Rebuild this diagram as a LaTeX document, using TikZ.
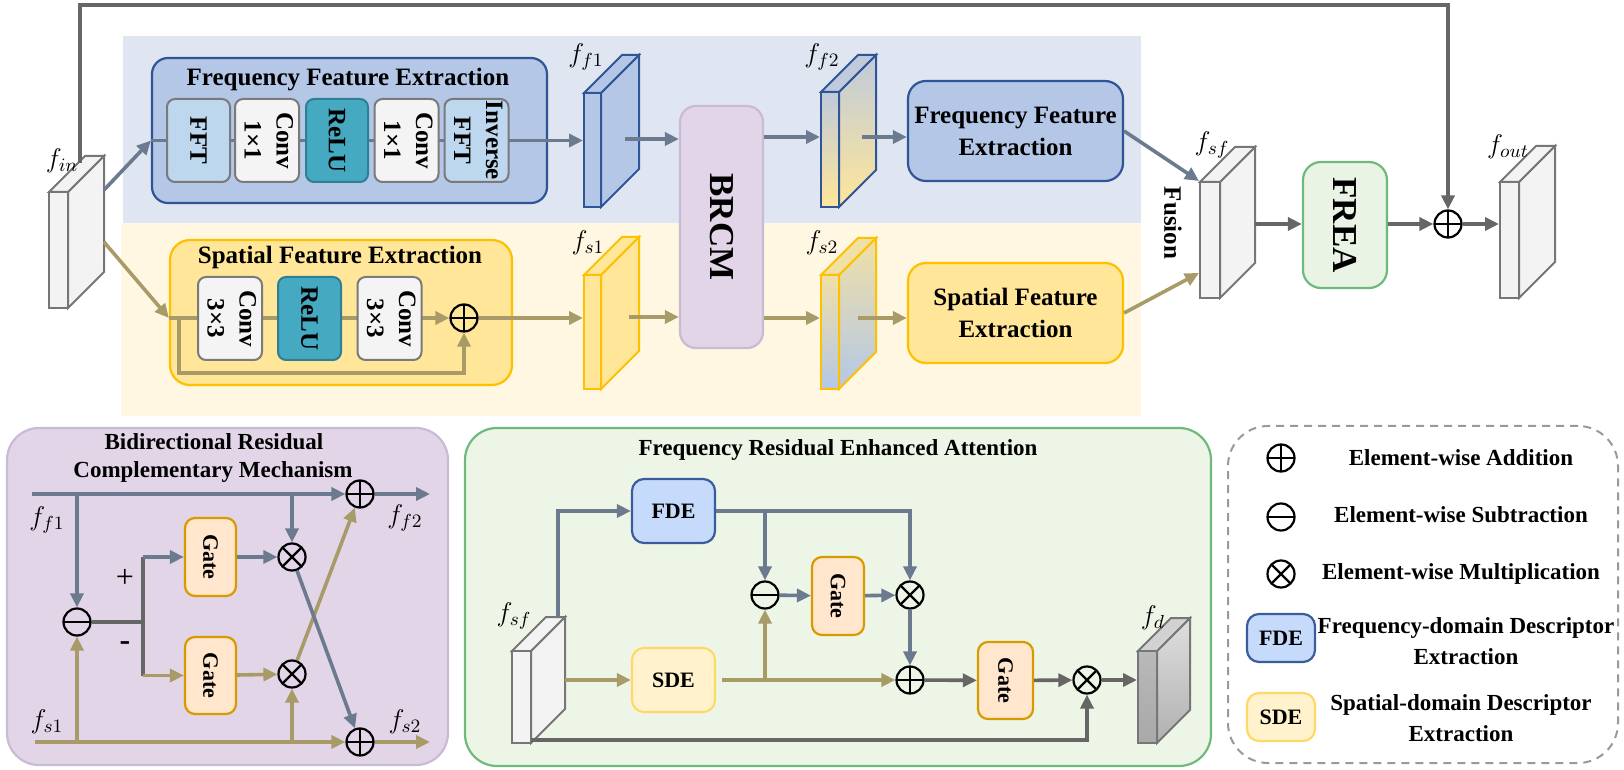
\RequirePackage{fix-cm}
\documentclass[tikz,border=0pt]{standalone}
\usepackage{graphicx}
\usepackage{fontspec}
\setmainfont{Liberation Serif}
\usetikzlibrary{arrows.meta,calc}
\definecolor{bandB}{HTML}{DFE6F2}
\definecolor{bandY}{HTML}{FFF7E1}
\definecolor{ffeF}{HTML}{B4C7E7}
\definecolor{ffeD}{HTML}{2F5597}
\definecolor{fftF}{HTML}{BDD7EE}
\definecolor{convF}{HTML}{F4F4F4}
\definecolor{boxG}{HTML}{7A7A7A}
\definecolor{reluF}{HTML}{45A9C1}
\definecolor{reluD}{HTML}{2E7F93}
\definecolor{sfeF}{HTML}{FFE699}
\definecolor{sfeD}{HTML}{FFC000}
\definecolor{purF}{HTML}{E1D5E7}
\definecolor{purD}{HTML}{C9BAD6}
\definecolor{gateF}{HTML}{FFE6CC}
\definecolor{gateD}{HTML}{D79B00}
\definecolor{grnF}{HTML}{EDF5E7}
\definecolor{grnD}{HTML}{70B97C}
\definecolor{freaF}{HTML}{EAF4E5}
\definecolor{fdeF}{HTML}{C6DAFB}
\definecolor{fdeD}{HTML}{3B5C9A}
\definecolor{sdeF}{HTML}{FFF2CC}
\definecolor{sdeD}{HTML}{FFD966}
\definecolor{arB}{HTML}{6B7A8F}
\definecolor{arY}{HTML}{A89B68}
\definecolor{arK}{HTML}{666666}
\definecolor{cubeF}{HTML}{F3F3F3}
\definecolor{cubeD}{HTML}{767676}
\definecolor{legD}{HTML}{999999}
\definecolor{ffTop}{HTML}{BFCADB}
\definecolor{fsTop}{HTML}{F0E0A6}
\newcommand\myfA{\fontsize{12.5}{16}\selectfont\bfseries}
\newcommand\myfB{\fontsize{17.5}{20}\selectfont\bfseries}
\newcommand\myfC{\fontsize{11.5}{15.5}\selectfont\bfseries}
\newcommand\myfD{\fontsize{11}{13}\selectfont\bfseries}
\newcommand\mycube[9]{%
  \path[#8] (#4,#3) -- (#4+#6,#3-#6) -- (#4+#6,#5-#6) -- (#4,#5) -- cycle;
  \path[#9] (#2,#3) -- (#2+#6,#3-#6) -- (#4+#6,#3-#6) -- (#4,#3) -- cycle;
  \node[#7, inner sep=0pt, minimum width={(#4-#2)*0.5pt}, minimum height={(#5-#3)*0.5pt}] (#1) at ({(#2+#4)/2},{(#3+#5)/2}) {};
}
\begin{document}
\begin{tikzpicture}[x=0.5pt,y=-0.5pt,
  wh/.style 2 args={minimum width=#1*0.5pt, minimum height=#2*0.5pt, inner sep=0pt},
  ib/.style={draw=boxG, line width=1pt, rounded corners=4pt, inner sep=0pt, font=\myfA},
  fftS/.style={ib, fill=fftF},
  convS/.style={ib, fill=convF},
  reluS/.style={ib, fill=reluF, draw=reluD},
  gateS/.style={draw=gateD, fill=gateF, line width=1.1pt, rounded corners=5pt, inner sep=0pt, font=\myfD},
  fdeS/.style={draw=fdeD, fill=fdeF, line width=1.1pt, rounded corners=6pt, inner sep=0pt, font=\myfD},
  sdeS/.style={draw=sdeD, fill=sdeF, line width=1.1pt, rounded corners=6pt, inner sep=0pt, font=\myfD},
  cubeS/.style={draw=cubeD, fill=cubeF, line width=1pt},
  blueS/.style={draw=ffeD, fill=ffeF, line width=1pt},
  yelS/.style={draw=sfeD, fill=sfeF, line width=1pt},
  ffTwoF/.style={draw=ffeD, line width=1pt, top color=ffTop, bottom color=sfeF},
  ffTwoT/.style={draw=ffeD, fill=ffTop, line width=1pt},
  fsTwoF/.style={draw=sfeD, line width=1pt, top color=fsTop, bottom color=ffeF},
  fsTwoT/.style={draw=sfeD, fill=fsTop, line width=1pt},
  fdF/.style={draw=cubeD, line width=1pt, top color=gray!55, bottom color=gray!68},
  fdS/.style={draw=cubeD, line width=1pt, top color=gray!25, bottom color=gray!62},
  fdT/.style={draw=cubeD, line width=1pt, fill=gray!35},
  lab/.style={font=\fontsize{13.5}{13.5}\selectfont, inner sep=1pt},
  opc/.style={circle, draw=black, line width=1.1pt, minimum size=13.5pt, inner sep=0pt},
  oplus/.style={opc, path picture={\draw[line width=1.1pt] (path picture bounding box.north)--(path picture bounding box.south) (path picture bounding box.west)--(path picture bounding box.east);}},
  ominus/.style={opc, path picture={\draw[line width=1.1pt] (path picture bounding box.west)--(path picture bounding box.east);}},
  otimes/.style={opc, path picture={\draw[line width=1.1pt] (path picture bounding box.north west)--(path picture bounding box.south east) (path picture bounding box.north east)--(path picture bounding box.south west);}},
  ab/.style={draw=arB, line width=1.8pt, -{Triangle[length=7pt,width=6.5pt]}},
  ay/.style={draw=arY, line width=1.8pt, -{Triangle[length=7pt,width=6.5pt]}},
  ak/.style={draw=arK, line width=1.8pt, -{Triangle[length=7pt,width=6.5pt]}},
  lk/.style={draw=arK, line width=1.8pt},
]
\useasboundingbox (0,0) rectangle (1624,770);
% bands
\fill[bandB] (123,36) rectangle (1141,223);
\fill[bandY] (121,223) rectangle (1141,416);
% cubes (top)
\mycube{fin}{49}{192}{68}{308}{36}{cubeS}{cubeS}{cubeS}
\mycube{ff1}{584}{93}{601}{207}{38}{blueS}{blueS}{blueS}
\mycube{fs1}{584}{275}{601}{389}{38}{yelS}{yelS}{yelS}
\mycube{ff2}{821}{92}{839}{207}{37}{ffTwoF}{ffTwoF}{ffTwoT}
\mycube{fs2}{821}{275}{839}{389}{37}{fsTwoF}{fsTwoF}{fsTwoT}
\mycube{fsf}{1200}{182}{1220}{298}{35}{cubeS}{cubeS}{cubeS}
\mycube{fout}{1500}{182}{1519}{298}{36}{cubeS}{cubeS}{cubeS}
% frequency feature extraction
\node[draw=ffeD, fill=ffeF, line width=1.1pt, rounded corners=8pt, wh={395}{145}] (ffe) at (349.5,130.5) {};
\node[font=\myfA] (ffet) at (348,80) {Frequency Feature Extraction};
\coordinate (fftc) at (198.5,140.5);
\draw[ab] (ffe.west |- fftc) -- (ff1.west |- fftc);
\node[fftS, wh={63}{83}] (fft) at (fftc) {\rotatebox{-90}{FFT}};
\node[convS, wh={62}{83}] (c11a) at (267,140.5) {\rotatebox{-90}{\begin{tabular}{@{}c@{}}Conv\\1×1\end{tabular}}};
\node[reluS, wh={62}{83}] (relu1) at (337,140.5) {\rotatebox{-90}{ReLU}};
\node[convS, wh={63}{83}] (c11b) at (406.5,140.5) {\rotatebox{-90}{\begin{tabular}{@{}c@{}}Conv\\1×1\end{tabular}}};
\node[fftS, wh={63}{83}] (ifft) at (476.5,140.5) {\rotatebox{-90}{\begin{tabular}{@{}c@{}}Inverse\\FFT\end{tabular}}};
% spatial feature extraction
\node[draw=sfeD, fill=sfeF, line width=1.1pt, rounded corners=10pt, wh={342}{145}] (sfe) at (341,312.5) {};
\node[font=\myfA] (sfet) at (340,257) {Spatial Feature Extraction};
\node[oplus] (sadd) at (464,318) {};
\draw[ay] (sfe.west |- sadd) -- (sadd);
\draw[ay] ([xshift=5pt]sfe.west |- sadd) -- ++(0,55) -| (sadd);
\node[convS, wh={64}{83}] (c33a) at (230,318.5) {\rotatebox{-90}{\begin{tabular}{@{}c@{}}Conv\\3×3\end{tabular}}};
\node[reluS, wh={63}{83}] (relu2) at (309.5,318.5) {\rotatebox{-90}{ReLU}};
\node[convS, wh={63}{83}] (c33b) at (389.5,318.5) {\rotatebox{-90}{\begin{tabular}{@{}c@{}}Conv\\3×3\end{tabular}}};
\draw[ay] (sadd) -- (sadd -| fs1.west);
% input arrows
\coordinate (finA) at (104,190);
\coordinate (finB) at (104,242);
\draw[ab] (finA) -- (ffe.west |- fftc);
\draw[ay] (finB) -- (sfe.west |- sadd);
% BRCM
\node[draw=purD, fill=purF, line width=1.1pt, rounded corners=8pt, wh={83}{242}, font=\myfB] (brcm) at (721.5,227) {\rotatebox{-90}{BRCM}};
\coordinate (ff1o) at (625,139);
\coordinate (fs1o) at (629,317);
\draw[ab] (ff1o) -- (ff1o -| brcm.west);
\draw[ay] (fs1o) -- (fs1o -| brcm.west);
\node[draw=ffeD, fill=ffeF, line width=1.1pt, rounded corners=9pt, wh={215}{100}, font=\myfA, align=center] (ffe2) at (1015.5,131) {Frequency Feature\\Extraction};
\node[draw=sfeD, fill=sfeF, line width=1.1pt, rounded corners=9pt, wh={215}{100}, font=\myfA, align=center] (sfe2) at (1015.5,313) {Spatial Feature\\Extraction};
\coordinate (ff2o) at (862,137);
\coordinate (fs2o) at (858,318);
\draw[ab] (brcm.east |- ff2o) -- (ff2.west |- ff2o);
\draw[ay] (brcm.east |- fs2o) -- (fs2.west |- fs2o);
\draw[ab] (ff2o) -- (ff2o -| ffe2.west);
\draw[ay] (fs2o) -- (fs2o -| sfe2.west);
\draw[ab] (ffe2.east) -- (fsf.north west);
\draw[ay] (sfe2.east) -- ([yshift=-16.5pt]fsf.west);
\node[font=\myfA] (fus) at (1173,223) {\rotatebox{-90}{Fusion}};
\node[draw=grnD, fill=freaF, line width=1.1pt, rounded corners=9pt, wh={84}{126}, font=\myfB] (frea) at (1345,225) {\rotatebox{-90}{FREA}};
\node[oplus] (oadd) at (1448,224) {};
\coordinate (fsfo) at (1255,224);
\draw[ak] (fsfo) -- (fsfo -| frea.west);
\draw[ak] (frea.east |- oadd) -- (oadd);
\draw[ak] (oadd) -- (oadd -| fout.west);
\coordinate (finT) at (80,163);
\coordinate (topL) at (80,5);
\draw[ak] (finT) -- (topL) -| (oadd);
% labels top
\node[lab] (lfin) at (62,161) {$f_{in}$};
\node[lab] (lff1) at (586,57) {$f_{f1}$};
\node[lab] (lff2) at (822,57) {$f_{f2}$};
\node[lab] (lfs1) at (588,243) {$f_{s1}$};
\node[lab] (lfs2) at (822,243) {$f_{s2}$};
\node[lab] (lfsf) at (1212,145) {$f_{sf}$};
\node[lab] (lfout) at (1508,147) {$f_{out}$};
% ===== bottom left: BRCM detail
\node[draw=purD, fill=purF, line width=1.1pt, rounded corners=16pt, wh={441}{337}] (brcmbox) at (227.5,596.5) {};
\node[font=\myfC] (bt1) at (214,442) {Bidirectional Residual};
\node[font=\myfC] (bt2) at (213,472) {Complementary Mechanism};
\node[oplus] (badd1) at (360,494) {};
\node[ominus] (bsub) at (77,622) {};
\node[otimes] (bmul1) at (292,557) {};
\node[otimes] (bmul2) at (292,674) {};
\node[oplus] (badd2) at (360,742) {};
\node[gateS, wh={51}{78}] (bg1) at (210.5,557) {\rotatebox{-90}{Gate}};
\node[gateS, wh={51}{77}] (bg2) at (210.5,675.5) {\rotatebox{-90}{Gate}};
\coordinate (bin1) at (32,494);
\coordinate (bout1) at (430,494);
\coordinate (bin2) at (35,742);
\coordinate (bout2) at (430,742);
\coordinate (bj) at (143,622);
\draw[ab] (bin1) -- (badd1);
\draw[ab] (badd1) -- (bout1);
\draw[ay] (bin2) -- (badd2);
\draw[ay] (badd2) -- (bout2);
\draw[ab] (bsub |- bin1) -- (bsub);
\draw[ay] (bsub |- bin2) -- (bsub);
\draw[lk] (bsub) -- (bj);
\draw[lk] (bj |- bg1) -- (bj |- bg2);
\draw[ab] (bj |- bg1) -- (bg1);
\draw[ay] (bj |- bg2) -- (bg2);
\draw[ab] (bg1) -- (bmul1);
\draw[ay] (bg2) -- (bmul2);
\draw[ab] (bmul1 |- bin1) -- (bmul1);
\draw[ay] (bmul2 |- bin2) -- (bmul2);
\draw[ay] (bmul2) -- (badd1);
\draw[ab] (bmul1) -- (badd2);
\node[font=\fontsize{16}{16}\selectfont] (plus) at (125,578) {+};
\node[font=\fontsize{16}{16}\selectfont\bfseries] (minus) at (125,646) {-};
\node[lab] (blff1) at (47,520) {$f_{f1}$};
\node[lab] (blfs1) at (47,722) {$f_{s1}$};
\node[lab] (blff2) at (405,518) {$f_{f2}$};
\node[lab] (blfs2) at (405,722) {$f_{s2}$};
% ===== bottom middle: FREA detail
\node[draw=grnD, fill=grnF, line width=1.1pt, rounded corners=16pt, wh={746}{338}] (freabox) at (838,597) {};
\node[font=\myfC] (ft) at (838,450) {Frequency Residual Enhanced Attention};
\mycube{fsfb}{512}{651}{531}{743}{34}{cubeS}{cubeS}{cubeS}
\mycube{fd}{1138}{651}{1157}{743}{33}{fdF}{fdS}{fdT}
\node[fdeS, wh={83}{64}] (fde) at (673.5,511) {FDE};
\node[sdeS, wh={83}{64}] (sde) at (673.5,680) {SDE};
\node[ominus] (fsub) at (765,595) {};
\node[gateS, wh={52}{78}] (fg1) at (838,596) {\rotatebox{-90}{Gate}};
\node[otimes] (fmul1) at (910,595) {};
\node[oplus] (fadd) at (910,680) {};
\node[gateS, wh={55}{77}] (fg2) at (1005.5,680.5) {\rotatebox{-90}{Gate}};
\node[otimes] (fmul2) at (1087,680) {};
\coordinate (fsfT) at (558,617);
\coordinate (fsfS) at (565,680);
\coordinate (fsfB) at (531,740);
\draw[ab] (fsfT) |- (fde.west);
\draw[ay] (fsfS) -- (fsfS -| sde.west);
\draw[ab] (fde.east) -| (fmul1);
\draw[ab] (fsub |- fde.east) -- (fsub);
\draw[ab] (fsub) -- (fg1);
\draw[ab] (fg1) -- (fmul1);
\draw[ab] (fmul1) -- (fadd);
\draw[ay] ([xshift=3pt]sde.east) -- (fadd);
\draw[ay] (fsub |- sde.east) -- (fsub);
\draw[ak] (fadd) -- (fg2);
\draw[ak] (fg2) -- (fmul2);
\draw[ak] (fmul2) -- (fmul2 -| fd.west);
\draw[ak] (fsfB) -| (fmul2);
\node[lab] (lfsfb) at (514,616) {$f_{sf}$};
\node[lab] (lfd) at (1153,618) {$f_{d}$};
% ===== legend
\node[draw=legD, dash pattern=on 4pt off 3pt, line width=1pt, rounded corners=20pt, wh={390}{337}] (leg) at (1423,594.5) {};
\node[oplus] (lgadd) at (1281,458) {};
\node[font=\myfC] (lgaddt) at (1461,458) {Element-wise Addition};
\node[ominus] (lgsub) at (1281,517) {};
\node[font=\myfC] (lgsubt) at (1461,515) {Element-wise Subtraction};
\node[otimes] (lgmul) at (1281,574) {};
\node[font=\myfC] (lgmult) at (1461,574) {Element-wise Multiplication};
\node[fdeS, wh={68}{48}] (lgfde) at (1281,638) {FDE};
\node[font=\myfC, align=center] (lgfdet) at (1466,641) {Frequency-domain Descriptor\\Extraction};
\node[sdeS, wh={68}{48}] (lgsde) at (1281,717) {SDE};
\node[font=\myfC, align=center] (lgsdet) at (1461,718) {Spatial-domain Descriptor\\Extraction};
\end{tikzpicture}
\end{document}
